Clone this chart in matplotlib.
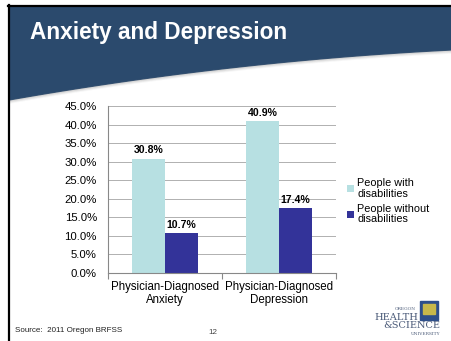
import numpy as np
import matplotlib.pyplot as plt
from matplotlib.patches import Rectangle, Polygon

plt.rcParams['font.family'] = ['Liberation Sans', 'DejaVu Sans']

# ---- data
categories = ['Physician-Diagnosed\nAnxiety', 'Physician-Diagnosed\nDepression']
with_dis = [30.8, 40.9]
without_dis = [10.7, 17.4]
series_names = ['People with\ndisabilities', 'People without\ndisabilities']
colors = ['#b7e0e2', '#333399']

W, H = 451, 341
fig = plt.figure(figsize=(W / 100, H / 100), dpi=100)

# ---- slide background (pixel coordinates)
bg = fig.add_axes([0, 0, 1, 1])
bg.set_xlim(0, W)
bg.set_ylim(H, 0)
bg.axis('off')

# black frame top / left
bg.plot([8, W], [5.5, 5.5], color='black', lw=1.6, zorder=3)
bg.plot([8.5, 8.5], [5, H], color='black', lw=1.6, zorder=3)

# blue banner with curved lower edge
xs = np.linspace(9, W, 100)
t = (xs - 9) / (W - 9)
ys = 100 - 78 * t + 28 * t ** 2
banner = Polygon(np.column_stack([np.r_[9, xs, W], np.r_[7, ys, 7]]),
                 closed=True, color='#2b4a6d', zorder=1)
bg.add_patch(banner)
for k, a in enumerate([0.25, 0.15, 0.07]):
    bg.plot(xs, ys + 1 + k, color='#8a8a8a', alpha=a, lw=1.2, zorder=1)

bg.text(30, 32, 'Anxiety and Depression', color='white', fontsize=16.3,
        fontweight='bold', va='center', ha='left', zorder=4)

bg.text(15, 331, 'Source:  2011 Oregon BRFSS', fontsize=5.8, va='center', color='#222222')
bg.text(213, 332, '12', fontsize=5.8, va='center', ha='center', color='#444444')

# logo
bg.text(416, 309, 'OREGON', fontsize=3.2, family='DejaVu Serif', ha='right', va='center', color='#4a5a78')
bg.text(418, 317, 'HEALTH', fontsize=7, family='DejaVu Serif', ha='right', va='center', color='#4a5a78')
bg.text(440, 326, '&SCIENCE', fontsize=7, family='DejaVu Serif', ha='right', va='center', color='#4a5a78')
bg.text(440, 334, 'UNIVERSITY', fontsize=3.2, family='DejaVu Serif', ha='right', va='center', color='#4a5a78')
bg.add_patch(Rectangle((420, 301), 18, 19, color='#2e4f8a', zorder=2))
bg.add_patch(Rectangle((423, 304), 12, 10, color='#c8b84a', zorder=3))

# ---- chart
ax = fig.add_axes([108 / W, 1 - 273 / H, 228 / W, 167 / H])
x = np.arange(len(categories))
bw = 0.29
b1 = ax.bar(x - bw / 2, with_dis, bw, color=colors[0], label=series_names[0], zorder=2)
b2 = ax.bar(x + bw / 2, without_dis, bw, color=colors[1], label=series_names[1], zorder=2)

for bars, vals in [(b1, with_dis), (b2, without_dis)]:
    for r, v in zip(bars, vals):
        ax.text(r.get_x() + r.get_width() / 2, v + 1.0, f'{v:.1f}%', ha='center',
                va='bottom', fontsize=7.6, fontweight='bold')

ax.set_xlim(-0.5, 1.5)
ax.set_ylim(0, 45)
ax.set_yticks(np.arange(0, 46, 5))
ax.set_yticklabels([f'{v:.1f}%' for v in np.arange(0, 46, 5)], fontsize=8.2)
ax.yaxis.grid(True, color='#b0b0b0', lw=0.7, zorder=0)
ax.tick_params(axis='y', length=0, pad=8)

ax.set_xticks([-0.5, 0.5, 1.5])
ax.set_xticklabels([])
ax.tick_params(axis='x', length=4, color='#888888', direction='out')
ax.set_xticks(x, minor=True)
ax.set_xticklabels(categories, minor=True, fontsize=8.3, linespacing=1.05)
ax.tick_params(axis='x', which='minor', length=0, pad=6)

for s in ['top', 'right']:
    ax.spines[s].set_visible(False)
ax.spines['left'].set_color('#888888')
ax.spines['bottom'].set_color('#888888')
ax.set_facecolor('none')

leg = ax.legend(loc='center left', bbox_to_anchor=(1.02, 0.43), frameon=False,
                fontsize=7.8, handlelength=0.6, handleheight=0.6, handletextpad=0.35,
                labelspacing=0.45, borderaxespad=0.2)
for txt in leg.get_texts():
    txt.set_linespacing(1.1)

fig.savefig('out.png', dpi=100)
